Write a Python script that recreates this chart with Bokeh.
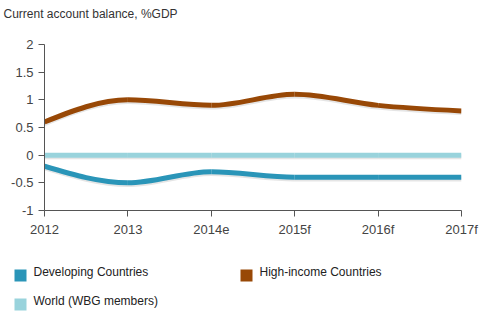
import numpy as np
from bokeh.plotting import figure
from bokeh.layouts import column
from bokeh.models import Range1d, FixedTicker, ColumnDataSource
from bokeh.core.properties import value
from bokeh.embed import file_html
from bokeh.resources import INLINE

# ---- data ----
title_text = "Current account balance, %GDP"
categories = ["2012", "2013", "2014e", "2015f", "2016f", "2017f"]
developing = [-0.2, -0.5, -0.3, -0.4, -0.4, -0.4]
high_income = [0.6, 1.0, 0.9, 1.1, 0.9, 0.8]
world = [0.0, 0.0, 0.0, 0.0, 0.0, 0.0]
y_ticks = [-1, -0.5, 0, 0.5, 1, 1.5, 2]
y_tick_labels = ["-1", "-0.5", "0", "0.5", "1", "1.5", "2"]
series_names = ["Developing Countries", "High-income Countries", "World (WBG members)"]
series_values = [developing, high_income, world]
series_colors = ["#2a95b8", "#984806", "#99d3dc"]

FONT = "Liberation Sans"


def monotone_bezier(xs, ys):
    """Cubic bezier control points following d3.curveMonotoneX."""
    xs = np.asarray(xs, float)
    ys = np.asarray(ys, float)
    n = len(xs)
    h = np.diff(xs)
    s = np.diff(ys) / h
    t = np.zeros(n)
    for i in range(1, n - 1):
        s0, s1 = s[i - 1], s[i]
        p = (s0 * h[i] + s1 * h[i - 1]) / (h[i - 1] + h[i])
        t[i] = (np.sign(s0) + np.sign(s1)) * min(abs(s0), abs(s1), 0.5 * abs(p))
    t[0] = (3 * s[0] - t[1]) / 2 if n > 2 else s[0]
    t[-1] = (3 * s[-1] - t[-2]) / 2 if n > 2 else s[-1]
    x0, x1 = xs[:-1], xs[1:]
    y0, y1 = ys[:-1], ys[1:]
    cx0 = x0 + h / 3
    cy0 = y0 + h / 3 * t[:-1]
    cx1 = x1 - h / 3
    cy1 = y1 - h / 3 * t[1:]
    return dict(x0=x0, y0=y0, x1=x1, y1=y1, cx0=cx0, cy0=cy0, cx1=cx1, cy1=cy1)


xs = list(range(len(categories)))

# title panel
tf = figure(width=488, height=30, output_backend="svg", toolbar_location=None,
            x_range=Range1d(0, 488), y_range=Range1d(30, 0),
            x_axis_type=None, y_axis_type=None, min_border=0)
tf.frame_align = False
tf.grid.visible = False
tf.outline_line_color = None
tf.text(x=[3], y=[13], text=[title_text], text_font=value(FONT), text_font_size="12px",
        text_color="#333333", text_baseline="middle", text_align="left")

p = figure(width=488, height=210, output_backend="svg", toolbar_location=None,
           x_range=Range1d(0, len(categories) - 1), y_range=Range1d(-1, 2),
           min_border_left=44, min_border_right=27, min_border_top=14,
           min_border_bottom=30)
p.frame_align = False
p.outline_line_color = None
p.xgrid.visible = False
p.ygrid.visible = False
p.background_fill_color = "white"
p.border_fill_color = "white"

# shadows then lines
shadow_offset = 0.03
for vals, col in zip(series_values, series_colors):
    d = monotone_bezier(xs, vals)
    sd = {k: (v - shadow_offset if k.startswith("y") or k.startswith("cy") else v) for k, v in d.items()}
    p.bezier(x0="x0", y0="y0", x1="x1", y1="y1", cx0="cx0", cy0="cy0", cx1="cx1", cy1="cy1",
             source=ColumnDataSource(sd), line_color="#999999", line_alpha=0.25, line_width=5)
for vals, col in zip(series_values, series_colors):
    d = monotone_bezier(xs, vals)
    p.bezier(x0="x0", y0="y0", x1="x1", y1="y1", cx0="cx0", cy0="cy0", cx1="cx1", cy1="cy1",
             source=ColumnDataSource(d), line_color=col, line_width=5)

for ax in (p.xaxis[0], p.yaxis[0]):
    ax.axis_line_color = "#555555"
    ax.major_tick_line_color = "#555555"
    ax.major_tick_in = 0
    ax.major_tick_out = 6
    ax.minor_tick_line_color = None
    ax.major_label_text_font = FONT
    ax.major_label_text_font_size = "13px"
    ax.major_label_text_color = "#444444"
    ax.major_label_standoff = 5

p.xaxis.ticker = FixedTicker(ticks=xs)
p.xaxis.major_label_overrides = {i: c for i, c in zip(xs, categories)}
p.yaxis.ticker = FixedTicker(ticks=y_ticks)
p.yaxis.major_label_overrides = {t: l for t, l in zip(y_ticks, y_tick_labels)}

# legend panel
lg = figure(width=488, height=83, output_backend="svg", toolbar_location=None,
            x_range=Range1d(0, 488), y_range=Range1d(83, 0),
            x_axis_type=None, y_axis_type=None, min_border=0)
lg.frame_align = False
lg.grid.visible = False
lg.outline_line_color = None

col_x = [20, 246]
row_y = [35, 64]
sq_x = [col_x[i % 2] for i in range(len(series_names))]
sq_y = [row_y[i // 2] for i in range(len(series_names))]
lg.rect(x=sq_x, y=sq_y, width=12, height=12, fill_color=series_colors, line_color=None)
lg.text(x=[v + 13 for v in sq_x], y=[v - 4 for v in sq_y], text=series_names,
        text_font=value(FONT), text_font_size="12px", text_color="#222222",
        text_baseline="middle", text_align="left")

layout = column(tf, p, lg, spacing=0)
open("out.html", "w").write(file_html(layout, INLINE))
